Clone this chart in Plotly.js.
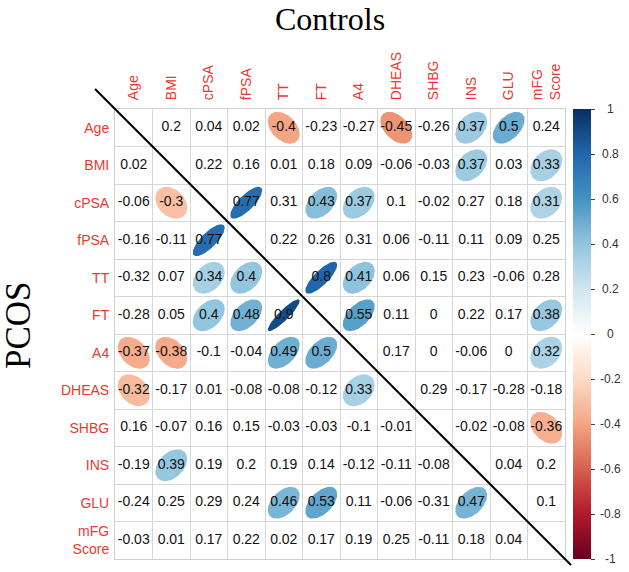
<!DOCTYPE html>
<html><head><meta charset="utf-8">
<script src="https://cdn.plot.ly/plotly-3.0.1.min.js"></script>
<style>html,body{margin:0;padding:0;background:#fff}</style>
</head><body><div id="chart" style="width:629px;height:572px"></div>
<script>
// variable names (tick labels)
const variables = ["Age","BMI","cPSA","fPSA","TT","FT","A4","DHEAS","SHBG","INS","GLU","mFG<br>Score"];
// upper triangle = Controls, lower triangle = PCOS, diagonal empty
const corr = [
 [null, 0.2, 0.04, 0.02, -0.4, -0.23, -0.27, -0.45, -0.26, 0.37, 0.5, 0.24],
 [0.02, null, 0.22, 0.16, 0.01, 0.18, 0.09, -0.06, -0.03, 0.37, 0.03, 0.33],
 [-0.06, -0.3, null, 0.77, 0.31, 0.43, 0.37, 0.1, -0.02, 0.27, 0.18, 0.31],
 [-0.16, -0.11, 0.77, null, 0.22, 0.26, 0.31, 0.06, -0.11, 0.11, 0.09, 0.25],
 [-0.32, 0.07, 0.34, 0.4, null, 0.8, 0.41, 0.06, 0.15, 0.23, -0.06, 0.28],
 [-0.28, 0.05, 0.4, 0.48, 0.9, null, 0.55, 0.11, 0, 0.22, 0.17, 0.38],
 [-0.37, -0.38, -0.1, -0.04, 0.49, 0.5, null, 0.17, 0, -0.06, 0, 0.32],
 [-0.32, -0.17, 0.01, -0.08, -0.08, -0.12, 0.33, null, 0.29, -0.17, -0.28, -0.18],
 [0.16, -0.07, 0.16, 0.15, -0.03, -0.03, -0.1, -0.01, null, -0.02, -0.08, -0.36],
 [-0.19, 0.39, 0.19, 0.2, 0.19, 0.14, -0.12, -0.11, -0.08, null, 0.04, 0.2],
 [-0.24, 0.25, 0.29, 0.24, 0.46, 0.53, 0.11, -0.06, -0.31, 0.47, null, 0.1],
 [-0.03, 0.01, 0.17, 0.22, 0.02, 0.17, 0.19, 0.25, -0.11, 0.18, 0.04, null]
];
// cells drawn with an ellipse (1) or number only (0)
const significant = [
 "000010010110",
 "000000000101",
 "010101100001",
 "001000000000",
 "001101100000",
 "001110100001",
 "110011000001",
 "100000100000",
 "000000000001",
 "010000000000",
 "000011000100",
 "000000000000"
];
// colour bar ticks
const cbTicks = [1, 0.8, 0.6, 0.4, 0.2, 0, -0.2, -0.4, -0.6, -0.8, -1];
const cbLabels = ["1","0.8","0.6","0.4","0.2","0","-0.2","-0.4","-0.6","-0.8","-1"];

const palette = ["#67001F","#B2182B","#D6604D","#F4A582","#FDDBC7","#FFFFFF","#D1E5F0","#92C5DE","#4393C3","#2166AC","#053061"];
function hex2rgb(h){return [parseInt(h.slice(1,3),16),parseInt(h.slice(3,5),16),parseInt(h.slice(5,7),16)];}
function colorFor(v){
  let t = (v + 1) / 2 * (palette.length - 1);
  let i = Math.min(Math.floor(t), palette.length - 2);
  let f = t - i;
  const a = hex2rgb(palette[i]), b = hex2rgb(palette[i+1]);
  const c = a.map((x,k)=>Math.round(x + (b[k]-x)*f));
  return 'rgb(' + c.join(',') + ')';
}

const n = variables.length;
const traces = [];
// ellipses
for (let r = 0; r < n; r++) {
  for (let c = 0; c < n; c++) {
    const v = corr[r][c];
    if (v === null || significant[r][c] !== '1') continue;
    const a = Math.acos(v);
    const xs = [], ys = [];
    for (let s = 0; s < 99; s++) {
      const k = 2 * Math.PI * s / 98;
      xs.push((c + 1) + 0.85 * Math.cos(k + a / 2) / 2);
      ys.push((r + 1) - 0.85 * Math.cos(k - a / 2) / 2);
    }
    traces.push({type:'scatter', mode:'lines', x:xs, y:ys, fill:'toself',
      fillcolor: colorFor(v), line:{width:0, color: colorFor(v)}, hoverinfo:'skip', showlegend:false});
  }
}
// numbers
const tx = [], ty = [], tt = [];
for (let r = 0; r < n; r++) for (let c = 0; c < n; c++) {
  const v = corr[r][c];
  if (v === null) continue;
  tx.push(c + 1); ty.push(r + 1); tt.push(String(v));
}
traces.push({type:'scatter', mode:'text', x:tx, y:ty, text:tt, textposition:'middle center',
  textfont:{family:'"Liberation Sans", Arial, sans-serif', size:14, color:'#111'}, hoverinfo:'skip', showlegend:false, cliponaxis:false});
// colour bar carrier
traces.push({type:'scatter', mode:'markers', x:[1], y:[1], hoverinfo:'skip', showlegend:false,
  marker:{size:1, opacity:0, color:[0], cmin:-1, cmax:1,
    colorscale: palette.map((col,i)=>[i/(palette.length-1), col]), showscale:true,
    colorbar:{x:1.0178, xanchor:'left', y:0.5, yanchor:'middle', len:1, lenmode:'fraction',
      thickness:17.5, thicknessmode:'pixels', xpad:0, ypad:0, outlinewidth:0,
      ticks:'outside', ticklen:4, tickwidth:1, tickcolor:'#444', tickvals:cbTicks, showticklabels:false}}});

const tickVals = variables.map((_,i)=>i+1);
const bounds = []; for (let i = 0; i <= n; i++) bounds.push(i + 0.5);
const labelFont = {family:'"Liberation Sans", Arial, sans-serif', size:14, color:'#e8392f'};
const axisCommon = {range:[0.5, n+0.5], tickvals:tickVals, ticktext:variables, tickfont:labelFont,
  showgrid:false, zeroline:false, showline:true, mirror:true, linecolor:'#cfcfcf', linewidth:1,
  ticks:'', ticklabelstandoff:5, fixedrange:true,
  minor:{tickvals:bounds, showgrid:true, gridcolor:'#d6d6d6', gridwidth:1, ticks:''}};

const annotations = [{text:'PCOS', textangle:-90, x:-0.2156, y:0.52, xref:'paper', yref:'paper',
  xanchor:'center', yanchor:'middle', showarrow:false,
  font:{family:'"Liberation Serif", "Times New Roman", serif', size:35, color:'#000'}}];
cbTicks.forEach((v,i)=>annotations.push({text:cbLabels[i], x:1.1, y:(v+1)/2, xref:'paper', yref:'paper',
  xanchor:'center', yanchor:'middle', showarrow:false,
  font:{family:'"Liberation Sans", Arial, sans-serif', size:12, color:'#333'}}));

const layout = {
  width:629, height:572, margin:{l:115, r:64, t:109, b:13, pad:0},
  paper_bgcolor:'#fff', plot_bgcolor:'#fff', showlegend:false,
  title:{text:'Controls', font:{family:'"Liberation Serif", "Times New Roman", serif', size:32, color:'#000'},
    xref:'container', x:330/629, xanchor:'center', yref:'container', y:1-8/572, yanchor:'top'},
  xaxis:Object.assign({}, axisCommon, {side:'top', tickangle:-90}),
  yaxis:Object.assign({}, axisCommon, {range:[n+0.5, 0.5], ticklabelstandoff:2}),
  annotations:annotations,
  shapes:[{type:'line', xref:'paper', yref:'paper', x0:-0.0444, y0:1.0444, x1:1.0133, y1:-0.0133,
    line:{color:'#000', width:2}, layer:'above'}]
};
Plotly.newPlot('chart', traces, layout, {displayModeBar:false, staticPlot:true});
</script></body></html>
